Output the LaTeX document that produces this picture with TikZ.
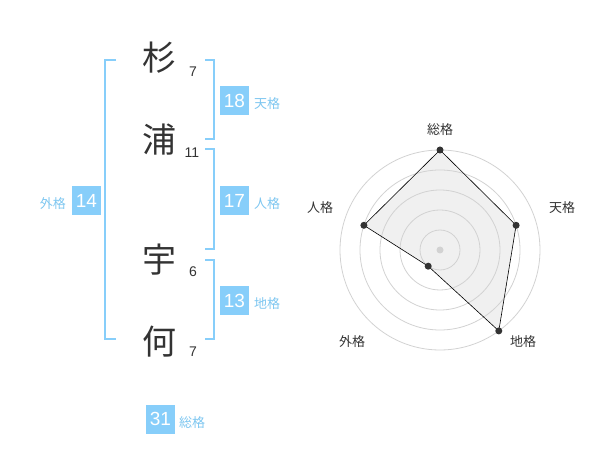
\documentclass[tikz,border=0pt]{standalone}
\usepackage{fontspec}
\setmainfont{Liberation Sans}
\newfontfamily\jpfont{Noto Sans CJK JP}
\definecolor{kakublue}{RGB}{135,206,250}
\definecolor{kakutext}{RGB}{125,198,240}
\definecolor{inkgray}{RGB}{51,51,51}
\definecolor{ringgray}{RGB}{210,210,210}
\definecolor{areagray}{RGB}{240,240,240}
\tikzset{
  kanji/.style={inner sep=0pt, text=inkgray, font=\jpfont\fontsize{34}{34}\selectfont},
  strokes/.style={inner sep=0pt, text=inkgray, font=\fontsize{14}{14}\selectfont},
  kakubox/.style={fill=kakublue, text=white, minimum size=29pt, inner sep=0pt, font=\fontsize{19}{19}\selectfont},
  kakulabel/.style={inner sep=0pt, text=kakutext, font=\jpfont\fontsize{13}{13}\selectfont},
  bracket/.style={draw=kakublue, line width=1.6pt},
  axislabel/.style={inner sep=0pt, text=inkgray, font=\jpfont\fontsize{13}{13}\selectfont},
  dot/.style={circle, fill=inkgray, inner sep=0pt, minimum size=7pt}
}
\begin{document}
\begin{tikzpicture}[x=1pt,y=-1pt]
\useasboundingbox (0,0) rectangle (600,470);

% name
\node[kanji] (sugi) at (159,58) {杉};
\node[kanji] (ura)  at (159,140) {浦};
\node[kanji] (u)    at (159,260) {宇};
\node[kanji] (ka)   at (159,342) {何};
\node[strokes] (nsugi) at (193,72) {7};
\node[strokes] (nura)  at (192,153) {11};
\node[strokes] (nu)    at (193,272) {6};
\node[strokes] (nka)   at (193,352) {7};

% brackets
\draw[bracket] (116,60) -| (105,339) -- (116,339);
\draw[bracket] (205,60) -| (214,139) -- (205,139);
\draw[bracket] (205,149) -| (214,249) -- (205,249);
\draw[bracket] (205,260) -| (214,339) -- (205,339);

% kaku boxes
\node[kakubox] (ten) at (234.5,100.5) {18};
\node[kakubox] (jin) at (234.5,200.5) {17};
\node[kakubox] (chi) at (234.5,300.5) {13};
\node[kakubox] (gai) at (86.5,200.5) {14};
\node[kakubox] (so)  at (160.5,419) {31};
\node[kakulabel, anchor=west] (tenl) at (254,104) {天格};
\node[kakulabel, anchor=west] (jinl) at (254,204) {人格};
\node[kakulabel, anchor=west] (chil) at (254,304) {地格};
\node[kakulabel, anchor=east] (gail) at (66,204) {外格};
\node[kakulabel, anchor=west] (sol)  at (179,423) {総格};

% radar
\coordinate (c) at (440,250);
\coordinate (pso)  at (440,150);
\coordinate (pten) at (516.1,225.3);
\coordinate (pchi) at (498.8,330.9);
\coordinate (pgai) at (428.2,266.2);
\coordinate (pjin) at (363.9,225.3);
\fill[areagray] (pso) -- (pten) -- (pchi) -- (pgai) -- (pjin) -- cycle;
\foreach \r in {20,40,60,80,100} {
\draw[ringgray, line width=0.8pt] (c) circle (\r pt);}
\fill[ringgray] (c) circle (3.5pt);
\draw[black, line width=0.6pt] (pso) -- (pten) -- (pchi) -- (pgai) -- (pjin) -- cycle;
\foreach \p in {pso,pten,pchi,pgai,pjin} {
\node[dot] at (\p) {};}
\node[axislabel] (aso)  at (440,130) {総格};
\node[axislabel] (aten) at (562,208) {天格};
\node[axislabel] (ajin) at (320,208) {人格};
\node[axislabel] (agai) at (352,342) {外格};
\node[axislabel] (achi) at (523,342) {地格};
\end{tikzpicture}
\end{document}
